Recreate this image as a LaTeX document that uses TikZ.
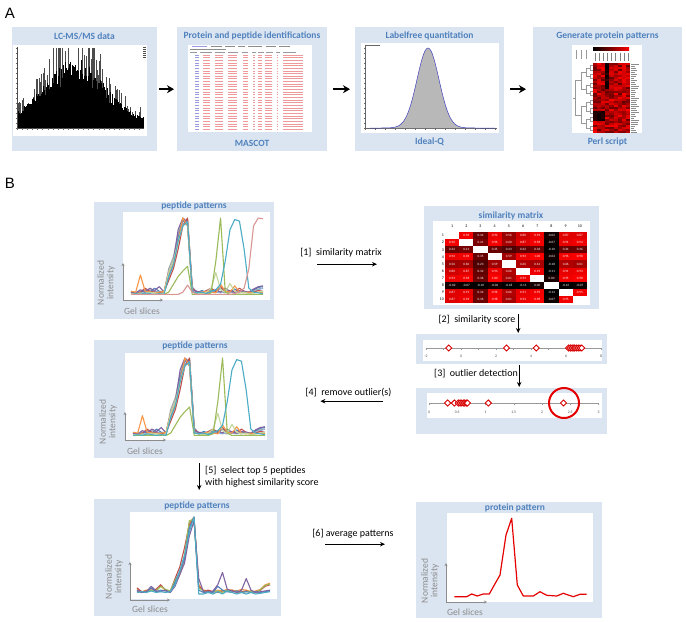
\documentclass[tikz,border=0pt]{standalone}
\usepackage{fontspec}
\setmainfont{Carlito}
\newfontfamily\arialfont{Liberation Sans}
\usetikzlibrary{arrows.meta,shapes.geometric}
\definecolor{boxfill}{HTML}{DBE5F1}
\definecolor{ttlblue}{HTML}{4F81BD}
\definecolor{xlblue}{HTML}{4F81BD}
\definecolor{xlred}{HTML}{C0504D}
\definecolor{xlgreen}{HTML}{9BBB59}
\definecolor{xlpurple}{HTML}{8064A2}
\definecolor{xlteal}{HTML}{4BACC6}
\definecolor{xlorange}{HTML}{F79646}
\definecolor{xlgray}{HTML}{A5A5A5}
\definecolor{xllblue}{HTML}{95B3D7}
\definecolor{xllgreen}{HTML}{C3D69B}
\definecolor{xlsalmon}{HTML}{D99694}
\definecolor{axgray}{HTML}{8C8C8C}
\definecolor{tabred}{HTML}{EE9A9A}
\definecolor{tabblue}{HTML}{9A9AE0}
\newcommand\pline[3]{\draw[#1] (0,#2) \foreach \val [count=\ii] in {#3} { -- (\ii,\val) };}
\newcommand\peplines{%
\pline{pl,xlgray}{0.05}{0.04,0.06,0.05,0.08,0.06,0.05,0.04,0.35,0.5,0.8,0.97,0.92,0.1,0.05,0.04,0.06,0.05,0.07,0.05,0.04,0.06,0.05,0.04,0.06,0.05,0.07,0.09,0.1}
\pline{pl,xllblue}{0.04}{0.05,0.04,0.06,0.05,0.07,0.04,0.05,0.3,0.45,0.75,0.92,0.98,0.12,0.04,0.05,0.04,0.06,0.05,0.04,0.06,0.05,0.04,0.05,0.06,0.04,0.05,0.08,0.1}
\pline{pl,xlblue}{0.06}{0.03,0.04,0.08,0.05,0.1,0.06,0.05,0.25,0.4,0.75,0.97,0.9,0.06,0.04,0.07,0.05,0.08,0.06,0.1,0.07,0.05,0.09,0.06,0.05,0.04,0.08,0.11,0.12}
\pline{pl,xlred}{0.04}{0.03,0.05,0.1,0.06,0.05,0.04,0.05,0.2,0.35,0.6,0.9,1.0,0.1,0.05,0.04,0.07,0.1,0.06,0.12,0.05,0.07,0.05,0.1,0.06,0.04,0.05,0.07,0.06}
\pline{pl,xlpurple}{0.05}{0.04,0.08,0.05,0.1,0.07,0.12,0.05,0.3,0.45,0.85,1.0,0.95,0.08,0.06,0.05,0.04,0.06,0.08,0.05,0.1,0.06,0.05,0.07,0.06,0.05,0.09,0.12,0.13}
\pline{pl,xlorange}{0.06}{0.05,0.27,0.06,0.05,0.04,0.05,0.06,0.3,0.4,0.7,1.0,0.9,0.05,0.04,0.05,0.06,0.05,0.04,0.15,0.06,0.05,0.13,0.05,0.04,0.05,0.04,0.05,0.04}
\pline{pl,xllgreen}{0.03}{0.03,0.04,0.03,0.05,0.04,0.03,0.04,0.3,0.45,0.7,0.9,0.95,0.05,0.04,0.03,0.05,0.1,0.3,0.08,0.05,0.16,0.06,0.04,0.05,0.03,0.04,0.05,0.06}
\pline{pl,xlgreen}{0.02}{0.02,0.02,0.02,0.02,0.02,0.02,0.02,0.05,0.15,0.25,0.32,0.38,0.02,0.02,0.02,0.02,0.04,0.45,1.0,0.05,0.02,0.02,0.02,0.02,0.02,0.02,0.02,0.02}
\pline{pl,xlteal}{0.02}{0.03,0.02,0.04,0.03,0.02,0.03,0.02,0.25,0.4,0.7,0.9,0.95,0.05,0.04,0.05,0.03,0.06,0.08,0.15,0.45,0.85,0.98,0.96,0.6,0.1,0.05,0.04,0.03}
}
\begin{document}
\begin{tikzpicture}[x=1pt,y=-1pt,
  panelbox/.style={fill=boxfill, draw=none, anchor=north west, inner sep=0pt},
  ttl/.style={font=\bfseries\fontsize{9.5}{11}\selectfont, text=ttlblue, inner sep=0pt},
  steplbl/.style={font=\fontsize{10}{12}\selectfont, inner sep=0pt},
  axlbl/.style={font=\fontsize{9.5}{9.5}\selectfont, text=axgray, inner sep=0pt},
  panlbl/.style={font=\arialfont\fontsize{15}{15}\selectfont, inner sep=0pt},
  bigarr/.style={-{Stealth[length=7pt,width=8pt]}, line width=2.2pt},
  arr/.style={-{Stealth[length=5pt,width=4.5pt]}, line width=1pt},
  axarr/.style={-{Stealth[length=3pt,width=3pt]}, line width=0.8pt, axgray},
  pl/.style={line width=1.1pt, line join=round},
  dend/.style={line width=0.3pt, black!40},
  dia/.style={diamond, draw=red!85!black, fill=white, line width=0.9pt, minimum size=6.5pt, inner sep=0pt},
  celltxt/.style={font=\fontsize{3.3}{3.5}\selectfont, text=white, inner sep=0pt},
  hdrtxt/.style={font=\fontsize{4}{4}\selectfont, inner sep=0pt},
  ticktxt/.style={font=\fontsize{3.8}{4}\selectfont, text=black!70, inner sep=0pt}]
\useasboundingbox (0,0) rectangle (686,622);
\fill[white] (0,0) rectangle (686,622);

% ================= Panel A =================
\node[panlbl] (lblA) at (10,13) {A};
\node[panelbox, minimum width=145pt, minimum height=124pt] (b1) at (12,27) {};
\node[panelbox, minimum width=150pt, minimum height=124pt] (b2) at (177,27) {};
\node[panelbox, minimum width=149pt, minimum height=124pt] (b3) at (355,27) {};
\node[panelbox, minimum width=149pt, minimum height=124pt] (b4) at (533,27) {};
\node[ttl] (t1) at (84.5,36) {LC-MS/MS data};
\node[ttl] (t2) at (252,36) {Protein and peptide identifications};
\node[ttl] (t2b) at (252,143) {MASCOT};
\node[ttl] (t3) at (429.5,36) {Labelfree quantitation};
\node[ttl] (t3b) at (429.5,142) {Ideal-Q};
\node[ttl] (t4) at (607.5,36) {Generate protein patterns};
\node[ttl] (t4b) at (607.5,142) {Perl script};
\draw[bigarr, shorten <=2pt, shorten >=3pt] (b1.east) -- (b2.west);
\draw[bigarr, shorten <=6pt, shorten >=5pt] (b2.east) -- (b3.west);
\draw[bigarr, shorten <=6pt, shorten >=7pt] (b3.east) -- (b4.west);

% box1: mass spectrum
\fill[white] (13,45) rectangle (147,136);
\pgfmathsetseed{11}
\foreach \i in {0,...,90}{
  \pgfmathsetmacro\xx{18+rnd*125}
  \pgfmathsetmacro\tq{(\xx-18)/125}
  \pgfmathsetmacro\hh{min(80,(10+58*exp(-((\tq-0.45)/0.3)*((\tq-0.45)/0.3)))*(1.05+0.6*rnd))}
  \draw[black!70, line width=0.35pt] (\xx,128) -- ++(0,-\hh);
}
\foreach \i in {0,...,250}{
  \pgfmathsetmacro\xx{18+\i*0.5}
  \pgfmathsetmacro\tq{\i/250}
  \pgfmathsetmacro\hh{(7+55*exp(-((\tq-0.45)/0.33)*((\tq-0.45)/0.33)))*(0.72+0.4*rnd)}
  \draw[black, line width=0.6pt] (\xx,128) -- ++(0,-\hh);
}
\draw[black!70, line width=0.3pt] (17,47) -- (17,128) -- (144,128);
\foreach \k in {0,...,24} \draw[black!60, line width=0.2pt] (17+\k*5.1,128) -- ++(0,1.5);
\foreach \k in {0,...,16} \draw[black!60, line width=0.2pt] (17,128-\k*5) -- ++(-1.5,0);
\foreach \k in {0,...,5} \draw[black!70, line width=0.4pt] (143,47+\k*2) -- ++(3,0);

% box2: MASCOT table
\fill[white] (188,45) rectangle (312,132);
\draw[tabblue, line width=0.9pt] (192,46) -- (207,46);
\foreach \a/\b in {211/222,225/235,238/245,248/262,266/276,279/290} \draw[black!45, line width=0.7pt] (\a,46) -- (\b,46);
\draw[black!45, line width=0.7pt] (190,49.5) -- (226,49.5);
\foreach \a/\b in {190/197,200/212,215/225,228/238,242/248,252/256,258/264,266/273,276/280,283/296} \draw[black!40, line width=0.6pt] (\a,52) -- (\b,52);
\foreach \k in {0,...,28}{
  \pgfmathsetmacro\yy{55+\k*2.65}
  \draw[tabblue, line width=0.8pt] (195,\yy) -- (199,\yy);
  \foreach \a/\b in {203/210,215/223,228/237,243/248,253/255,258/262,265/272,277/278,283/303}
    \draw[tabred, line width=0.8pt] (\a,\yy) -- (\b,\yy);
}

% box3: chromatogram
\fill[white] (361,43) rectangle (499,133);
\draw[black!60, line width=0.3pt] (365,45) -- (365,128) -- (497,128);
\foreach \k in {0,...,13} \draw[black!60, line width=0.2pt] (365+\k*10,128) -- ++(0,1.5);
\foreach \k in {0,...,16} \draw[black!60, line width=0.2pt] (365,128-\k*5) -- ++(-1.5,0);
\draw[black!60, line width=0.6pt] (366,45.5) -- (380,45.5);
\fill[black!28] plot[smooth, domain=378:480, samples=80] (\x,{128-80*exp(-((\x-428)/11)*((\x-428)/11)/2)}) -- cycle;
\draw[blue!50!gray, line width=0.5pt] plot[smooth, domain=370:495, samples=90] (\x,{128-80*exp(-((\x-428)/11)*((\x-428)/11)/2)});

% box4: heat map
\fill[white] (572,45) rectangle (642,133);
\shade[left color=black, right color=red] (593,47.5) rectangle (629,50.5);
\foreach \k in {0,...,8} \draw[black!50, line width=0.3pt] (595+\k*4.11,53) -- ++(0,8);
\foreach \k in {0,...,2} \draw[black!40, line width=0.3pt] (576+\k*5,50) -- ++(0,9);
\pgfmathsetseed{7}
\foreach \rr in {0,...,34}{
  \foreach \cc in {0,...,8}{
    \pgfmathtruncatemacro\hv{100*((\cc==3 && \rr<13) ? 0.25*rnd : ((\cc==7 && \rr<12) ? 0.8+0.2*rnd : ((\rr>23 && \rr<29 && \cc<3) ? 0.2*rnd : 0.4+0.6*rnd)))}
    \fill[red!\hv!black] (593+\cc*4.11,63+\rr*2) rectangle ++(4.11,2);
  }
  \pgfmathsetmacro\ll{3+5*rnd}
  \draw[black!45, line width=0.5pt] (631,64+\rr*2) -- ++(\ll,0);
}
\foreach \j in {0,...,7}{\pgfmathsetmacro\ya{65.5+8.6*\j}
  \draw[dend] (593,\ya) -- (590,\ya) -- (590,\ya+4.3) -- (593,\ya+4.3);}
\foreach \j in {0,...,3}{\pgfmathsetmacro\ya{67.65+17.2*\j}
  \draw[dend] (590,\ya) -- (586,\ya) -- (586,\ya+8.6) -- (590,\ya+8.6);}
\foreach \j in {0,1}{\pgfmathsetmacro\ya{71.95+34.4*\j}
  \draw[dend] (586,\ya) -- (581,\ya) -- (581,\ya+17.2) -- (586,\ya+17.2);}
\draw[dend] (581,80.55) -- (575,80.55) -- (575,114.95) -- (581,114.95);
\draw[dend] (575,97.75) -- (573,97.75);

% ================= Panel B =================
\node[panlbl] (lblB) at (10,183) {B};
\node[panelbox, minimum width=180pt, minimum height=117pt] (pp1) at (94,202) {};
\node[panelbox, minimum width=175pt, minimum height=103pt] (sm) at (424,206) {};
\node[panelbox, minimum width=191pt, minimum height=30pt] (st1) at (416,334) {};
\node[panelbox, minimum width=191pt, minimum height=46pt] (st2) at (416,388) {};
\node[panelbox, minimum width=180pt, minimum height=118pt] (pp2) at (94,340) {};
\node[panelbox, minimum width=187pt, minimum height=117pt] (pp3) at (94,499) {};
\node[panelbox, minimum width=186pt, minimum height=116pt] (prot) at (416,502) {};

% peptide patterns 1
\fill[white] (123,212) rectangle (270,300);
\node[ttl] (tp1) at (194,206) {peptide patterns};
\begin{scope}[shift={(131,296)}, xscale=4.714, yscale=-78]
\peplines
\pline{pl,xlsalmon}{0.02}{0.02,0.02,0.02,0.02,0.02,0.02,0.02,0.02,0.02,0.02,0.05,0.14,0.05,0.02,0.02,0.02,0.02,0.02,0.02,0.02,0.02,0.03,0.05,0.1,0.35,0.9,1.0,0.99}
\end{scope}
\coordinate (o1) at (123,300);
\draw[axarr] (o1) -- (123,263);
\draw[axarr] (o1) -- (163,300);
\node[axlbl, rotate=90, align=center] (nl1) at (106,283) {Normalized\\intensity};
\node[axlbl] (gs1) at (142,311) {Gel slices};

% similarity matrix
\node[ttl] (tsm) at (511,216) {similarity matrix};
\fill[white] (433,221) rectangle (590,305);
\foreach \cc in {1,...,10} \node[hdrtxt] (h\cc) at (445+\cc*14.2-7.1,226.5) {\cc};
\foreach \rr in {1,...,10} \node[hdrtxt, anchor=east] (rl\rr) at (444,232+\rr*7.1-3.55) {\rr};
\foreach \vals [count=\rr] in {
 {x,0.96,0.34,0.92,0.56,0.80,0.93,-0.02,0.87,0.87},
 {0.96,x,0.41,0.96,0.60,0.87,0.96,-0.07,0.91,0.94},
 {0.34,0.41,x,0.35,0.23,0.32,0.36,-0.10,0.34,0.36},
 {0.92,0.96,0.35,x,0.59,0.93,1.00,-0.04,0.96,0.98},
 {0.56,0.60,0.23,0.59,x,0.66,0.61,-0.18,0.66,0.61},
 {0.80,0.87,0.32,0.93,0.66,x,0.93,-0.11,0.91,0.93},
 {0.93,0.96,0.36,1.00,0.61,0.93,x,0.00,0.95,0.98},
 {-0.02,-0.07,-0.10,-0.04,-0.18,-0.11,0.00,x,-0.12,-0.07},
 {0.87,0.91,0.34,0.96,0.66,0.91,0.95,-0.12,x,0.95},
 {0.87,0.94,0.36,0.98,0.61,0.93,0.98,-0.07,0.95,x}}{
  \foreach \val [count=\cc] in \vals {
    \ifnum\rr=\cc\relax
      \fill[white] (445+\cc*14.2-14.2,232+\rr*7.1-7.1) rectangle ++(14.2,7.1);
    \else
      \pgfmathtruncatemacro\pc{max(0,min(100,(\val+0.12)/1.12*100))}
      \fill[red!\pc!black] (445+\cc*14.2-14.2,232+\rr*7.1-7.1) rectangle ++(14.2,7.1);
      \node[celltxt] (m\rr-\cc) at (445+\cc*14.2-7.1,232+\rr*7.1-3.55) {\val};
    \fi
  }
}

% similarity score strip
\fill[white] (423,340) rectangle (602,361);
\draw[black!40, line width=0.4pt] (427,348) -- (602,348);
\foreach \v in {-2,...,8} \draw[black!40, line width=0.3pt] (461+17.5*\v,348) -- ++(0,1.5);
\foreach \v in {-2,0,2,4,6,8} \node[ticktxt] (sa\v) at (461+17.5*\v,356) {\v};
\foreach \v [count=\k] in {-0.7,2.6,4.3,6.15,6.25,6.35,6.45,6.5,6.6,6.7,6.8,6.9}
  \node[dia] (da\k) at (461+17.5*\v,348) {};

% outlier strip
\fill[white] (427,393) rectangle (602,418);
\draw[black!40, line width=0.4pt] (429,403) -- (598,403);
\foreach \v/\t [count=\k] in {0/0,0.5/0.5,1/1,1.5/1.5,2/2,2.5/2.5,3/3}{
  \draw[black!40, line width=0.3pt] (429+56.5*\v,403) -- ++(0,1.5);
  \node[ticktxt] (sb\k) at (429+56.5*\v,412) {\t};}
\foreach \v [count=\k] in {0.33,0.45,0.52,0.55,0.58,0.61,0.63,0.66,0.68,1.05,2.38}
  \node[dia] (db\k) at (429+56.5*\v,403) {};
\node[circle, draw=red!90!black, line width=2pt, minimum size=30pt, inner sep=0pt] (ring) at (564,403) {};

% peptide patterns 2
\fill[white] (125,353) rectangle (267,440);
\node[ttl] (tp2) at (195,346) {peptide patterns};
\begin{scope}[shift={(133,437)}, xscale=4.714, yscale=-79]
\peplines
\end{scope}
\coordinate (o2) at (125,440);
\draw[axarr] (o2) -- (125,412);
\draw[axarr] (o2) -- (166,440);
\node[axlbl, rotate=90, align=center] (nl2) at (108,422) {Normalized\\intensity};
\node[axlbl] (gs2) at (145,451) {Gel slices};

% peptide patterns 3
\fill[white] (130,512) rectangle (277,599);
\node[ttl] (tp3) at (197,506) {peptide patterns};
\begin{scope}[shift={(137,594)}, xscale=4.75, yscale=-77]
\pline{pl,xlorange}{0.06}{0.03,0.05,0.07,0.05,0.1,0.05,0.04,0.15,0.25,0.45,0.92,1.0,0.12,0.05,0.04,0.03,0.05,0.04,0.06,0.05,0.04,0.06,0.05,0.03,0.04,0.06,0.12,0.14}
\pline{pl,xlred}{0.08}{0.03,0.04,0.05,0.06,0.12,0.05,0.03,0.2,0.35,0.6,0.9,0.98,0.1,0.04,0.05,0.03,0.02,0.04,0.03,0.05,0.02,0.03,0.04,0.02,0.03,0.05,0.1,0.12}
\pline{pl,xlgreen}{0.03}{0.02,0.03,0.05,0.04,0.1,0.06,0.04,0.18,0.28,0.5,0.95,0.97,0.08,0.04,0.02,0.03,0.04,0.02,0.05,0.03,0.04,0.02,0.03,0.04,0.02,0.06,0.11,0.13}
\pline{pl,xlblue}{0.05}{0.02,0.03,0.08,0.03,0.05,0.04,0.02,0.15,0.3,0.45,0.85,1.0,0.05,0.02,0.03,0.02,0.1,0.05,0.03,0.02,0.04,0.02,0.03,0.02,0.03,0.02,0.03,0.04}
\pline{pl,xlpurple}{0.04}{0.02,0.03,0.1,0.04,0.03,0.05,0.02,0.1,0.25,0.4,0.75,0.95,0.2,0.03,0.02,0.04,0.12,0.28,0.06,0.04,0.02,0.05,0.2,0.05,0.02,0.03,0.04,0.05}
\pline{pl,xlteal}{0.02}{0.03,0.02,0.04,0.02,0.03,0.02,0.03,0.12,0.3,0.5,0.8,1.0,0.0,0.0,0.02,0.0,0.03,0.0,0.04,0.02,0.0,0.02,0.0,0.02,0.0,0.01,0.02,0.03}
\end{scope}
\coordinate (o3) at (130,600);
\draw[axarr] (o3) -- (130,562);
\draw[axarr] (o3) -- (170,600);
\node[axlbl, rotate=90, align=center] (nl3) at (114,577) {Normalized\\intensity};
\node[axlbl] (gs3) at (150,609) {Gel slices};

% protein pattern
\fill[white] (447,513) rectangle (593,602);
\node[ttl] (tpr) at (515,508) {protein pattern};
\draw[red!90!black, line width=1.2pt, line join=round] (454.3,596.7) -- (466.7,596.7) -- (471.7,594) -- (477.3,596) -- (483.3,594) -- (489.3,594) -- (494.3,585) -- (500,575) -- (506,535) -- (511.7,518.3) -- (517.3,585) -- (523.3,596) -- (533.3,596) -- (540,591.7) -- (546.7,595.3) -- (556.7,596) -- (563.3,593.3) -- (573.3,596.7) -- (580,594.3) -- (586.7,594.3);
\coordinate (o4) at (446,602);
\draw[axarr] (o4) -- (446,563);
\draw[axarr] (o4) -- (487,602);
\node[axlbl, rotate=90, align=center] (nl4) at (430,581) {Normalized\\intensity};
\node[axlbl] (gs4) at (465,612) {Gel slices};

% ================= connectors =================
\draw[arr] ([xshift=43pt,yshift=-3.5pt]pp1.east) -- ([xshift=-47pt,yshift=-6.5pt]sm.west);
\node[steplbl] (l1) at (341,253) {[1]\ \ similarity matrix};
\draw[arr] ([xshift=6.5pt,yshift=-5pt]sm.south) -- ([xshift=6.5pt,yshift=1pt]st1.north);
\node[steplbl] (l2) at (477,320) {[2]\ \ similarity score};
\draw[arr] ([xshift=7.5pt,yshift=-1pt]st1.south) -- ([xshift=7.5pt,yshift=1pt]st2.north);
\node[steplbl] (l3) at (476,374) {[3]\ \ outlier detection};
\draw[arr] ([xshift=-33pt,yshift=10pt]st2.west) -- ([xshift=46pt,yshift=-2pt]pp2.east);
\node[steplbl] (l4) at (348.5,393) {[4]\ \ remove outlier(s)};
\draw[arr] ([xshift=15pt,yshift=-5pt]pp2.south) -- ([xshift=11.5pt,yshift=9pt]pp3.north);
\node[steplbl, anchor=west, align=left] (l5) at (205,476.5) {[5]\ \ select top 5 peptides\\with highest similarity score};
\draw[arr] ([xshift=44pt,yshift=13.5pt]pp3.east) -- ([xshift=-31pt,yshift=16pt]prot.west);
\node[steplbl] (l6) at (353,534) {[6] average patterns};
\end{tikzpicture}
\end{document}
